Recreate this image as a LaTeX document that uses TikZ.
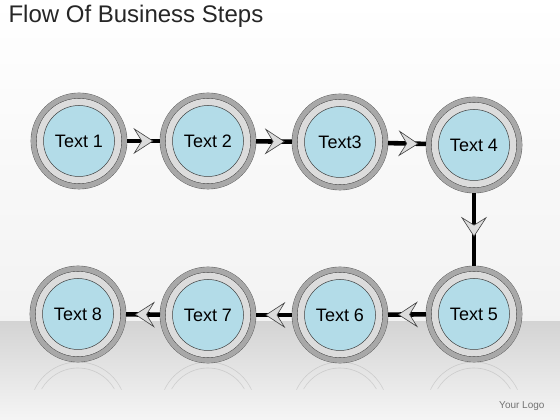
\documentclass[tikz,border=0pt]{standalone}
\usepackage{fontspec}
\setmainfont{Liberation Sans}
\usetikzlibrary{calc}
\usetikzlibrary{arrows.meta}
\usetikzlibrary{decorations.markings}

\definecolor{stepblue}{RGB}{179,220,232}
\definecolor{ringdark}{RGB}{168,168,168}
\definecolor{ringlight}{RGB}{220,220,220}

\tikzset{
  stepnode/.style={circle, minimum size=71pt, inner sep=0pt, outer sep=12.5pt,
    fill=stepblue, draw=black!75, line width=0.5pt,
    font=\fontsize{18}{21}\selectfont,
    preaction={draw=black!65, line width=25.6pt},
    preaction={draw=ringdark, line width=24.8pt},
    preaction={draw=black!80, line width=14.6pt},
    preaction={draw=ringlight, line width=13.8pt}},
  flow/.style={line width=4.6pt, black, postaction={decorate},
    decoration={markings, mark=at position #1 with {\arrow{Stealth[length=20pt, width=26pt, inset=8pt, fill=ringlight, color=black!75, line width=0.6pt]}}}},
  flow/.default=0.8,
  mirror/.style={gray, line width=0.6pt, opacity=0.25}
}

\begin{document}
\begin{tikzpicture}[x=1pt,y=1pt]
        \shade[top color=white, bottom color=black!5] (0,98) rectangle (560,420);
        \shade[top color=black!17, bottom color=black!4] (0,0) rectangle (560,98);
        \useasboundingbox (0,0) rectangle (560,420);
        \node[anchor=north west, font=\fontsize{24}{28}\selectfont, black!85] (title) at (5,418) {Flow Of Business Steps};
        \node[anchor=south east, font=\fontsize{10}{12}\selectfont, black!55] (logo) at (548,6) {Your Logo};
        % faint reflections on the floor
        \foreach \x in {78,208,340,474} {
          \draw[mirror] ($(\x,10)+(25:48)$) arc[start angle=25, end angle=155, radius=48];
          \draw[mirror] ($(\x,10)+(30:42)$) arc[start angle=30, end angle=150, radius=42];
        }
        \node[stepnode] (T1) at (79, 279) {Text 1};
        \node[stepnode] (T2) at (208, 279) {Text 2};
        \node[stepnode] (T3) at (340, 278) {Text3};
        \node[stepnode] (T4) at (474, 275) {Text 4};
        \node[stepnode] (T5) at (474, 106) {Text 5};
        \node[stepnode] (T6) at (340, 105) {Text 6};
        \node[stepnode] (T7) at (208, 105) {Text 7};
        \node[stepnode] (T8) at (78, 106) {Text 8};
        \draw (T1) edge[flow] (T2);
        \draw (T2) edge[flow] (T3);
        \draw (T3) edge[flow] (T4);
        \draw (T4) edge[flow=0.6] (T5);
        \draw (T5) edge[flow=0.74] (T6);
        \draw (T6) edge[flow=0.74] (T7);
        \draw (T7) edge[flow=0.74] (T8);
    \end{tikzpicture}
\end{document}
